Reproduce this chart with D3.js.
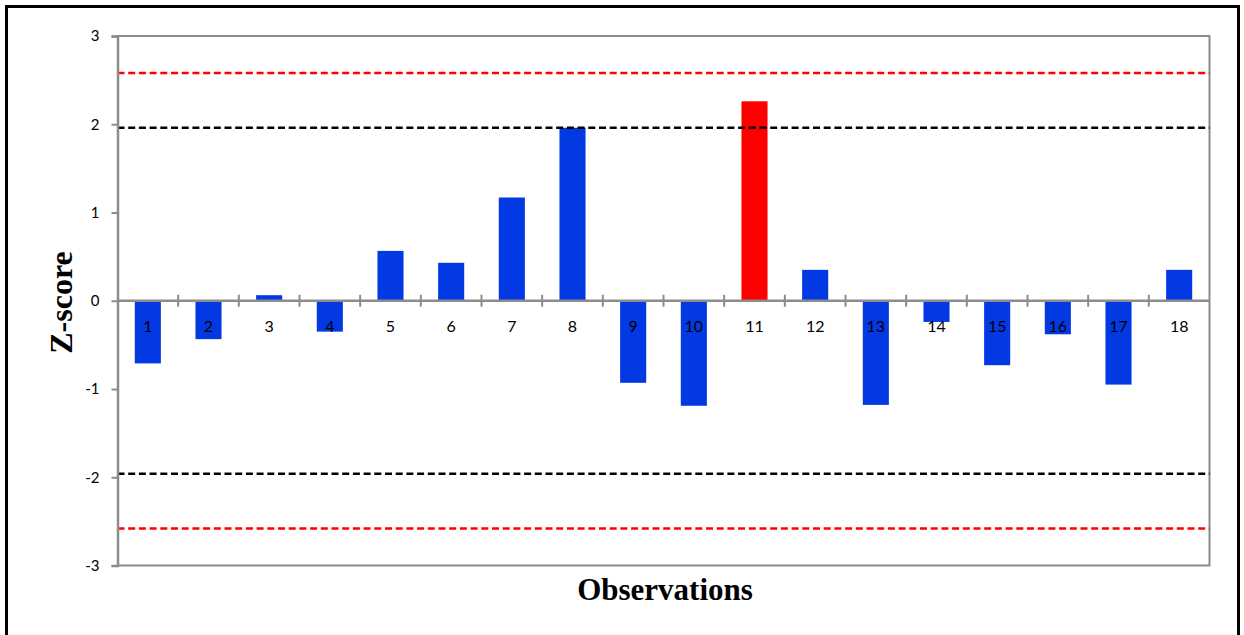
<!DOCTYPE html>
<html><head><meta charset="utf-8">
<script src="https://cdn.jsdelivr.net/npm/d3@7"></script>
<style>body{margin:0;background:#fff;} svg{display:block;}</style>
</head><body>
<svg id="c" width="1244" height="635"></svg>
<script>
const categories = ["1","2","3","4","5","6","7","8","9","10","11","12","13","14","15","16","17","18"];
const zScores = [-0.71,-0.435,0.063,-0.35,0.565,0.43,1.17,1.96,-0.93,-1.19,2.26,0.35,-1.18,-0.24,-0.73,-0.38,-0.95,0.35];
const highlighted = ["11"];
const yTicks = [-3,-2,-1,0,1,2,3];
const yTickLabels = ["-3","-2","-1","0","1","2","3"];
const limits95 = [1.96,-1.96];
const limits99 = [2.58,-2.58];

const svg = d3.select("#c");
const m = {left:117.5, right:1209.5, top:36, bottom:565.5};
const x = d3.scaleBand().domain(categories).range([m.left,m.right]).paddingInner(0.57).paddingOuter(0.285);
const xb = d3.scaleBand().domain(categories).range([m.left,m.right]);
const y = d3.scaleLinear().domain([-3,3]).range([m.bottom,m.top]);

// outer border
svg.append("rect").attr("x",6.5).attr("y",6.5).attr("width",1232).attr("height",640)
  .attr("fill","none").attr("stroke","#000").attr("stroke-width",3);

// frame top/right/bottom
const gray="#8c8c8c";
svg.append("path").attr("d",`M${m.left},${y(3)}H${m.right}V${y(-3)}H${m.left}`)
  .attr("fill","none").attr("stroke",gray).attr("stroke-width",2);

// bars
svg.append("g").selectAll("rect").data(categories).join("rect")
  .attr("x",d=>x(d)).attr("width",x.bandwidth())
  .attr("y",(d,i)=>y(Math.max(0,zScores[i])))
  .attr("height",(d,i)=>Math.abs(y(zScores[i])-y(0)))
  .attr("fill",d=>highlighted.includes(d)?"#ff0000":"#0339e3");

// reference lines
function refLine(v,color){
  svg.append("line").attr("x1",m.left).attr("x2",m.right).attr("y1",y(v)).attr("y2",y(v))
    .attr("stroke",color).attr("stroke-width",2.5).attr("stroke-dasharray","7,3.7");
}
limits99.forEach(v=>refLine(v,"#ff0000"));
limits95.forEach(v=>refLine(v,"#000000"));

// y axis
const yAxis = d3.axisLeft(y).tickValues(yTicks).tickSize(6).tickPadding(12)
  .tickFormat((d,i)=>yTickLabels[i]);
const gy = svg.append("g").attr("transform",`translate(${m.left},0)`).call(yAxis);
gy.select(".domain").attr("stroke",gray).attr("stroke-width",2.5);
gy.selectAll(".tick line").attr("stroke",gray).attr("stroke-width",2);
gy.selectAll("text").attr("font-family","Lato, 'Open Sans', sans-serif").attr("font-size",15).attr("fill","#000");

// x axis at zero
svg.append("line").attr("x1",m.left).attr("x2",m.right).attr("y1",y(0)).attr("y2",y(0))
  .attr("stroke",gray).attr("stroke-width",2.5);
svg.append("g").selectAll("line").data(categories.slice(1)).join("line")
  .attr("x1",d=>xb(d)).attr("x2",d=>xb(d)).attr("y1",y(0)-6).attr("y2",y(0)+6)
  .attr("stroke",gray).attr("stroke-width",2);
svg.append("g").selectAll("text").data(categories).join("text")
  .attr("x",d=>x(d)+x.bandwidth()/2).attr("y",y(0)+31)
  .attr("text-anchor","middle").attr("font-family","Lato, 'Open Sans', sans-serif").attr("font-size",16)
  .attr("fill","#000").text(d=>d);

// axis titles
svg.append("text").attr("x",665).attr("y",600).attr("text-anchor","middle")
  .attr("font-family","'Liberation Serif', serif").attr("font-weight","bold").attr("font-size",31)
  .text("Observations");
svg.append("text").attr("transform",`translate(72,302.5) rotate(-90)`).attr("text-anchor","middle")
  .attr("font-family","'Liberation Serif', serif").attr("font-weight","bold").attr("font-size",32)
  .text("Z-score");
</script>
</body></html>
